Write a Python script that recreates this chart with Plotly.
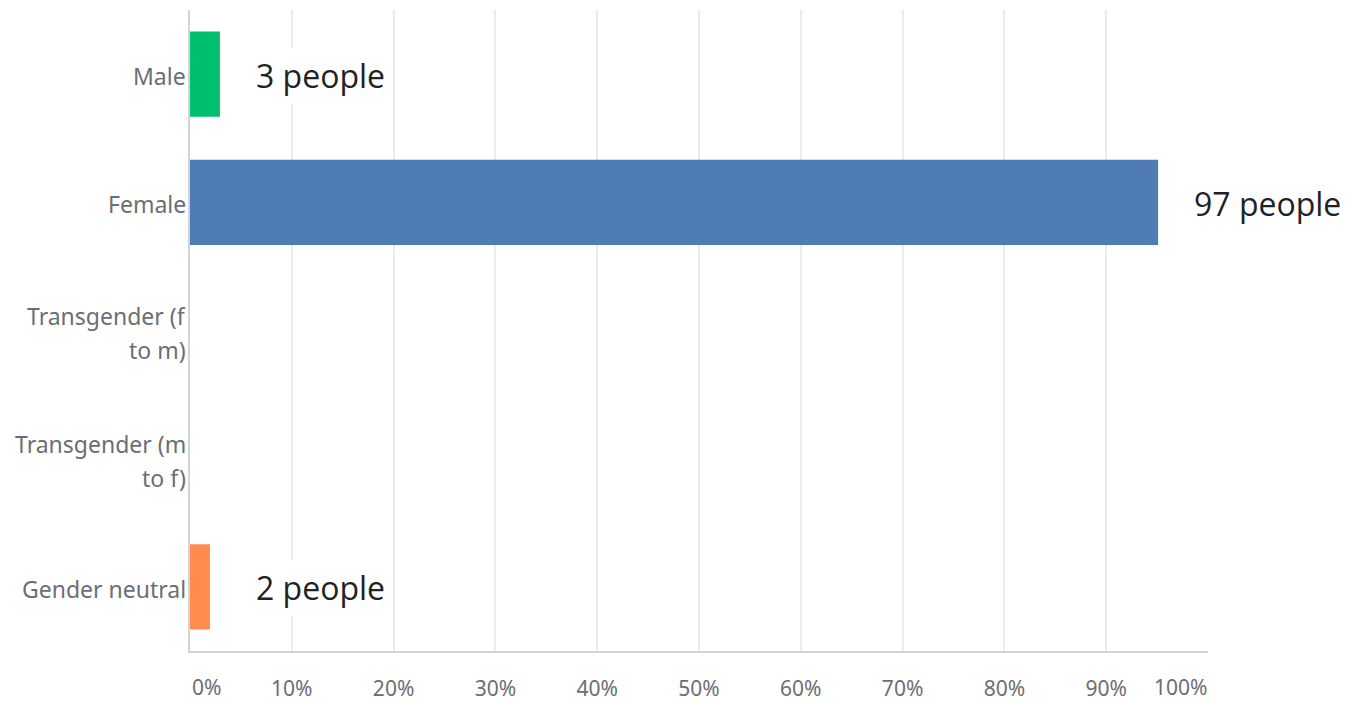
import plotly.graph_objects as go

categories = ["Male", "Female", "Transgender (f\nto m)", "Transgender (m\nto f)", "Gender neutral"]
percent = [2.94, 95.10, 0.0, 0.0, 1.96]
counts = [3, 97, 0, 0, 2]
bar_colors = ["#00bf6f", "#507cb6", "#cccccc", "#cccccc", "#ff8b4f"]
x_tickvals = [0, 10, 20, 30, 40, 50, 60, 70, 80, 90, 100]
x_ticktext = ["", "10%", "20%", "30%", "40%", "50%", "60%", "70%", "80%", "90%", ""]

FONT = "Noto Sans"
GREY = "#6b6e72"
FS = 23
TFS = 21

fig = go.Figure()
fig.add_trace(go.Bar(
    y=list(range(len(categories))),
    x=percent,
    orientation="h",
    marker=dict(color=bar_colors, line=dict(width=0)),
    width=0.665,
    hoverinfo="skip",
))

annotations = []
# value labels
for i, (p, c) in enumerate(zip(percent, counts)):
    if c == 0:
        continue
    annotations.append(dict(
        x=max(p, 2.94), y=i, xref="x", yref="y",
        text=f"{c} people", showarrow=False,
        xanchor="left", yanchor="middle", xshift=29, yshift=-1,
        font=dict(family="Open Sans", size=32, color="#1e2326"),
        bgcolor="white", borderpad=6,
    ))
# category labels (line spacing as in reference)
for i, cat in enumerate(categories):
    lines = cat.split("\n")
    n = len(lines)
    for j, line in enumerate(lines):
        annotations.append(dict(
            x=0, y=i, xref="paper", yref="y",
            text=line, showarrow=False,
            xanchor="right", yanchor="middle",
            xshift=-2, yshift=(-(j - (n - 1) / 2) * 34) - 2,
            font=dict(family=FONT, size=FS, color=GREY),
        ))
# end tick labels
annotations.append(dict(x=0, y=0, xref="x", yref="paper", text="0%", showarrow=False,
                        xanchor="left", yanchor="middle", yshift=-36,
                        font=dict(family=FONT, size=TFS, color=GREY)))
annotations.append(dict(x=100, y=0, xref="x", yref="paper", text="100%", showarrow=False,
                        xanchor="right", yanchor="middle", yshift=-36, xshift=2,
                        font=dict(family=FONT, size=TFS, color=GREY)))

fig.update_layout(
    width=1356, height=703,
    margin=dict(l=190, r=148, t=10, b=52),
    paper_bgcolor="white", plot_bgcolor="white",
    showlegend=False,
    annotations=annotations,
    xaxis=dict(
        range=[0, 100], tickvals=x_tickvals, ticktext=x_ticktext,
        showgrid=True, gridcolor="#ebebeb", gridwidth=1.5,
        showline=True, linecolor="#d3d4d6", linewidth=2,
        zeroline=False, ticks="", ticklabelstandoff=18,
        tickfont=dict(family=FONT, size=TFS, color=GREY),
        fixedrange=True, automargin=False,
    ),
    yaxis=dict(
        range=[4.5, -0.5], tickvals=list(range(len(categories))),
        showticklabels=False, showgrid=False,
        showline=True, linecolor="#d3d4d6", linewidth=2,
        zeroline=False, ticks="", fixedrange=True, automargin=False,
    ),
)

fig.write_html("out.html", config={"displayModeBar": False},
               post_script="document.body.style.margin='0';document.body.style.overflow='hidden';")
